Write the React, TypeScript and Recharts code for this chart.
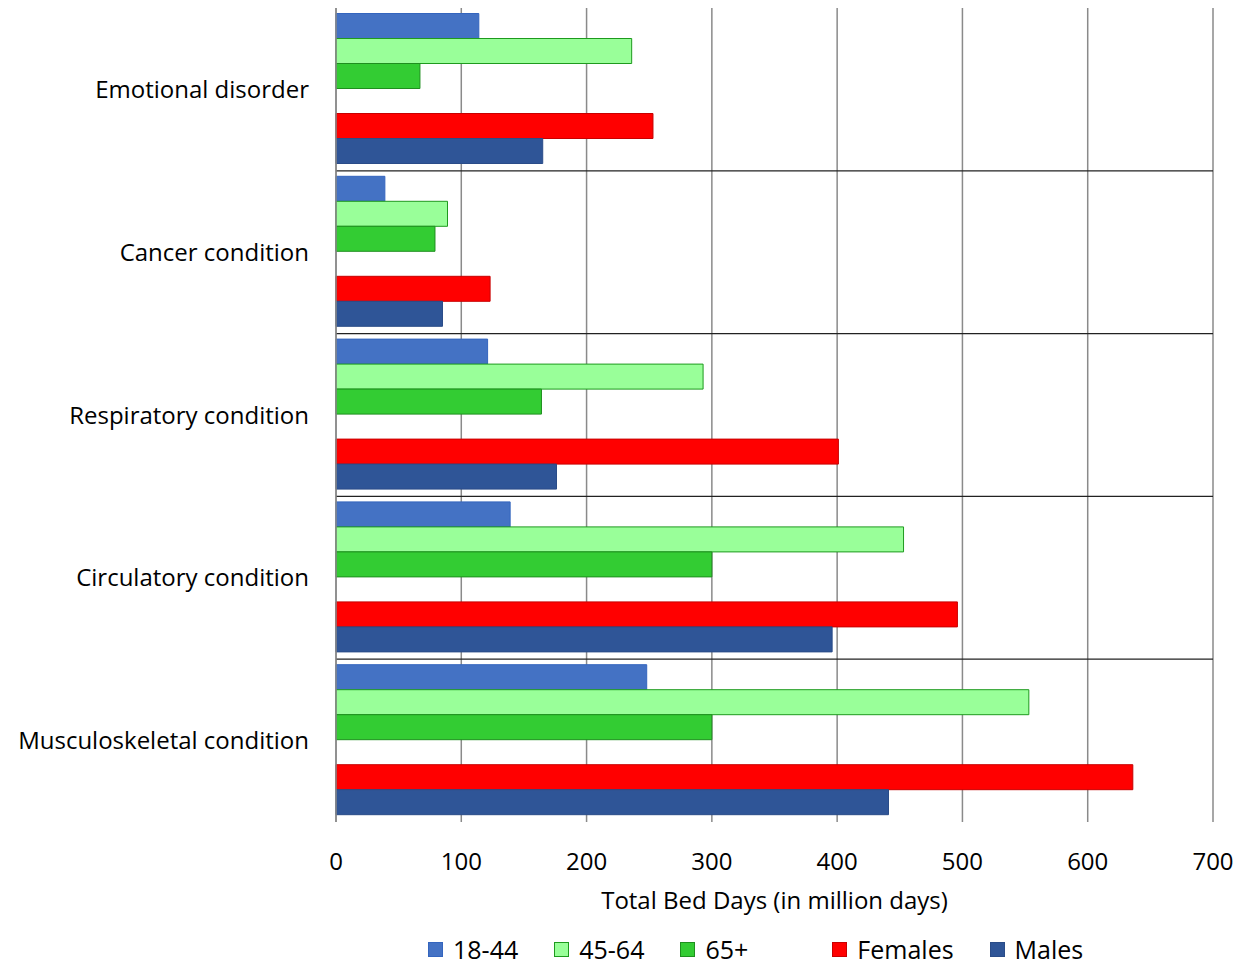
import React from 'react';
import { BarChart, Bar, XAxis, YAxis, CartesianGrid, Legend } from 'recharts';

const categories = [
  'Emotional disorder',
  'Cancer condition',
  'Respiratory condition',
  'Circulatory condition',
  'Musculoskeletal condition',
];
const age18to44 = [114, 39, 121, 139, 248];
const age45to64 = [236, 89, 293, 453, 553];
const age65plus = [67, 79, 164, 300, 300];
const females = [253, 123, 401, 496, 636];
const males = [165, 85, 176, 396, 441];
const xTicks = [0, 100, 200, 300, 400, 500, 600, 700];

const series = [
  { key: 'a1844', name: '18-44', fill: '#4472C4', stroke: '#3465BE' },
  { key: 'a4564', name: '45-64', fill: '#99FF99', stroke: '#1E9A1E' },
  { key: 'a65', name: '65+', fill: '#33CC33', stroke: '#1E8F1E' },
  { key: 'gap', name: '', fill: 'none', stroke: 'none' },
  { key: 'fem', name: 'Females', fill: '#FF0000', stroke: '#C80000' },
  { key: 'mal', name: 'Males', fill: '#2F5597', stroke: '#2A4C88' },
];

const data = categories.map((name, i) => ({
  name,
  a1844: age18to44[i],
  a4564: age45to64[i],
  a65: age65plus[i],
  gap: null,
  fem: females[i],
  mal: males[i],
}));

const FONT = '"Open Sans", sans-serif';

// separator lines at the boundaries between category bands
const bandBoundaries = (props: any) => {
  const off = props && props.offset ? props.offset : null;
  const top = off ? off.top : 8;
  const h = off ? off.height : 814;
  const n = categories.length;
  return categories.slice(1).map((_, i) => top + (h * (i + 1)) / n);
};

const renderLegend = () => (
  <div
    style={{
      height: 26,
      display: 'flex',
      alignItems: 'center',
      paddingLeft: 428,
      fontFamily: FONT,
      fontSize: 25,
      color: '#000',
      lineHeight: '26px',
    }}
  >
    {series.map((s) =>
      s.key === 'gap' ? (
        <div key={s.key} style={{ width: 48 }} />
      ) : (
        <div key={s.key} style={{ display: 'flex', alignItems: 'center', marginRight: 36 }}>
          <div
            style={{
              width: 13,
              height: 13,
              background: s.fill,
              border: `1px solid ${s.stroke}`,
              marginRight: 10,
            }}
          />
          <span style={{ display: 'inline-block', height: 26, lineHeight: '26px' }}>{s.name}</span>
        </div>
      )
    )}
  </div>
);

export default function App() {
  return (
    <div>
      <style>{`body{margin:0}`}</style>
      <BarChart
        width={1239}
        height={964}
        data={data}
        layout="vertical"
        margin={{ top: 8, right: 26, left: 0, bottom: 2 }}
        barCategoryGap={5.5}
        barGap={0}
        style={{ fontFamily: FONT }}
      >
        <CartesianGrid horizontal={false} stroke="#8A8A8A" strokeWidth={1.5} />
        <CartesianGrid
          vertical={false}
          stroke="#222"
          strokeWidth={1.3}
          horizontalCoordinatesGenerator={bandBoundaries}
        />
        <XAxis
          type="number"
          domain={[0, 700]}
          ticks={xTicks}
          tickSize={0}
          tickMargin={31}
          axisLine={false}
          tick={{ fill: '#000', fontSize: 24 }}
          height={114}
          label={{
            value: 'Total Bed Days (in million days)',
            position: 'insideTop',
            offset: 70,
            fill: '#000',
            fontSize: 24,
          }}
        />
        <YAxis
          type="category"
          dataKey="name"
          width={336}
          tickSize={0}
          tickMargin={27}
          axisLine={{ stroke: '#8A8A8A', strokeWidth: 1.5 }}
          tick={{ fill: '#000', fontSize: 24 }}
        />
        {series.map((s) => (
          <Bar
            key={s.key}
            dataKey={s.key}
            name={s.name}
            fill={s.fill}
            stroke={s.stroke}
            strokeWidth={1}
            isAnimationActive={false}
          />
        ))}
        <Legend verticalAlign="bottom" content={renderLegend} wrapperStyle={{ left: 0, width: 1239 }} />
      </BarChart>
    </div>
  );
}
